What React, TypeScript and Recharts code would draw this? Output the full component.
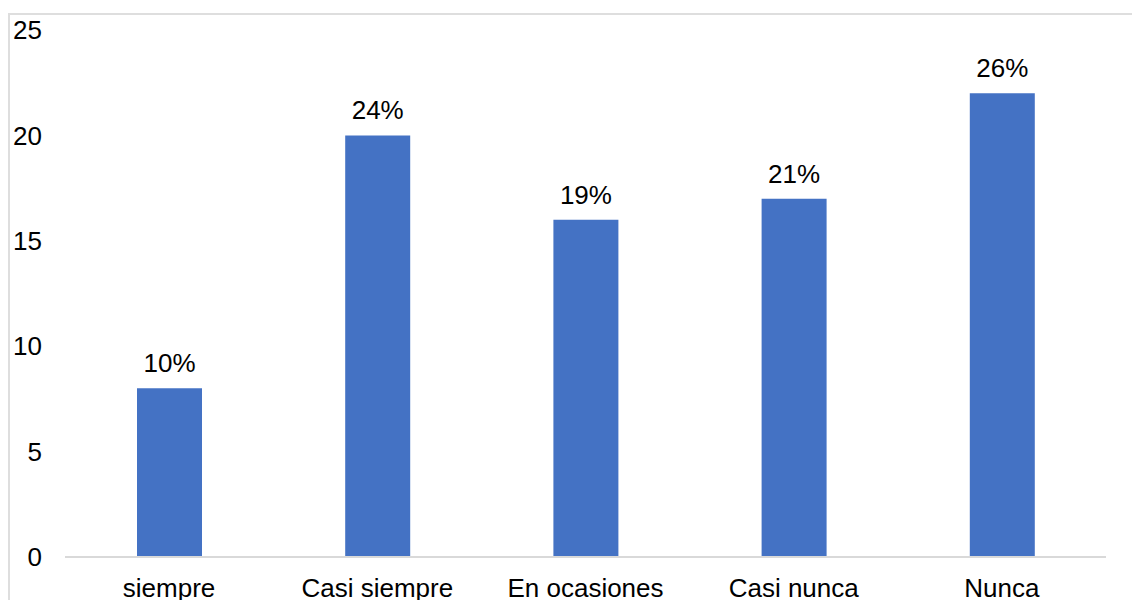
import { Bar, BarChart, LabelList, XAxis, YAxis } from 'recharts';

const categories = ['siempre', 'Casi siempre', 'En ocasiones', 'Casi nunca', 'Nunca'];
const counts = [8, 20, 16, 17, 22];
const percentLabels = ['10%', '24%', '19%', '21%', '26%'];
const yTicks = [0, 5, 10, 15, 20, 25];

const chartData = categories.map((name, i) => ({
  name,
  value: counts[i],
  label: percentLabels[i],
}));

const font = '"Liberation Sans", Arial, sans-serif';

const App = () => {
  return (
    <div
      style={{
        position: 'absolute',
        left: 0,
        top: 0,
        width: 1132,
        height: 600,
        overflow: 'hidden',
        background: '#fff',
        fontFamily: font,
      }}
    >
      <div
        style={{
          position: 'absolute',
          left: 8,
          top: 13,
          width: 1300,
          height: 800,
          border: '2px solid #dedede',
        }}
      />
      <div style={{ position: 'absolute', left: 0, top: 0 }}>
        <BarChart
          width={1132}
          height={600}
          data={chartData}
          margin={{ top: 30, right: 26, bottom: 0, left: 0 }}
        >
          <XAxis
            dataKey="name"
            height={43}
            axisLine={{ stroke: '#d9d9d9', strokeWidth: 2 }}
            tickLine={false}
            tickSize={0}
            tickMargin={22}
            tick={{ fill: '#000', fontSize: 26, fontFamily: font }}
            interval={0}
          />
          <YAxis
            width={65}
            domain={[0, 25]}
            ticks={yTicks}
            axisLine={false}
            tickLine={false}
            tickSize={0}
            tickMargin={23}
            tick={{ fill: '#000', fontSize: 26, fontFamily: font }}
          />
          <Bar dataKey="value" fill="#4472C4" barSize={65} isAnimationActive={false}>
            <LabelList
              dataKey="label"
              position="top"
              offset={16}
              style={{ fill: '#000', fontSize: 26, fontFamily: font }}
            />
          </Bar>
        </BarChart>
      </div>
    </div>
  );
};

export default App;
